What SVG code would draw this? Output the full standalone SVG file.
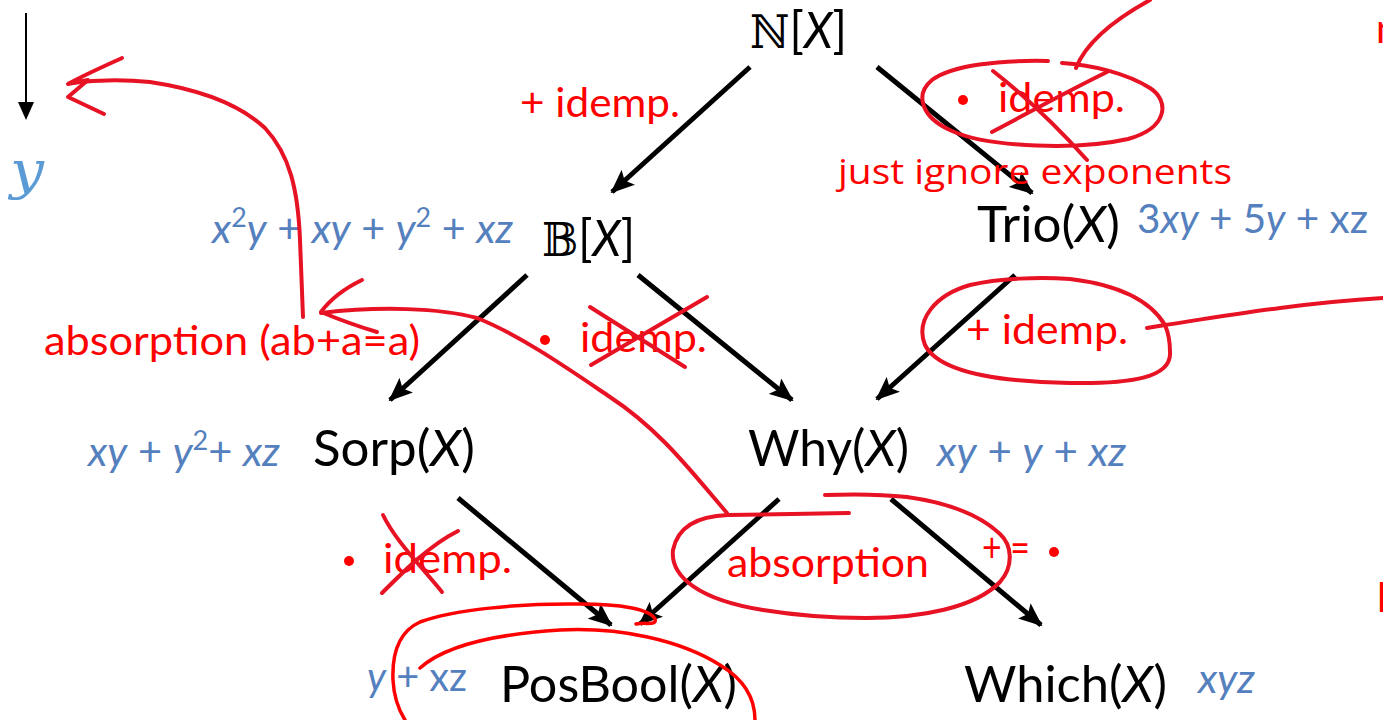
<svg xmlns="http://www.w3.org/2000/svg" width="1383" height="720" viewBox="0 0 1383 720">
<style>
.lbl{font-family:Lato,"Open Sans","Liberation Sans",sans-serif;font-size:50px;fill:#000}
.ds{font-family:Lato,"Open Sans","Liberation Sans",sans-serif;font-size:50px;fill:#000}
.dsg{font-family:"DejaVu Serif","DejaVu Sans",serif}
.it{font-style:italic}
.f{font-family:Lato,"Open Sans","Liberation Sans",sans-serif;font-size:40px;fill:#5580BE}
.r{font-family:Lato,"Open Sans","Liberation Sans",sans-serif;font-size:40px;fill:#FF0000}
.hw{font-family:"Open Sans","Noto Sans",sans-serif;font-size:34px;fill:#FF0000}
.arr{stroke:#000;stroke-width:5;fill:none;marker-end:url(#ah)}
.ink{stroke:#E71224;stroke-width:4;fill:none;stroke-linecap:round;stroke-linejoin:round}
.ink2{stroke:#FF0000;stroke-width:3.5;fill:none;stroke-linecap:round}
</style>
<defs>
<marker id="ah" markerUnits="userSpaceOnUse" markerWidth="24" markerHeight="20" refX="22" refY="10" orient="auto">
<path d="M0,0 L24,10 L0,20 L5,10 Z" fill="#000"/>
</marker>
<marker id="ahs" markerUnits="userSpaceOnUse" markerWidth="18" markerHeight="16" refX="16" refY="8" orient="auto">
<path d="M0,0 L18,8 L0,16 Z" fill="#000"/>
</marker>
</defs>

<!-- legend arrow and y -->
<g id="legend">
<line x1="26" y1="13" x2="26" y2="118" stroke="#000" stroke-width="2" marker-end="url(#ahs)"/>
<text x="10" y="188" font-family="'DejaVu Serif','Liberation Serif',serif" font-style="italic" font-size="52" fill="#5B9BD5" textLength="34" lengthAdjust="spacingAndGlyphs">y</text>
</g>

<!-- connectors -->
<g id="connectors">
<line class="arr" x1="750" y1="67" x2="612" y2="192"/>
<line class="arr" x1="877" y1="67" x2="1032" y2="193"/>
<line class="arr" x1="527" y1="275" x2="390" y2="400"/>
<line class="arr" x1="638" y1="275" x2="792" y2="400"/>
<line class="arr" x1="1015" y1="275" x2="877" y2="399"/>
<line class="arr" x1="458" y1="498" x2="611" y2="625"/>
<line class="arr" x1="779" y1="499" x2="640" y2="624"/>
<line class="arr" x1="891" y1="499" x2="1041" y2="625"/>
</g>

<!-- nodes -->
<g id="node-N"><text class="ds" x="750" y="48" textLength="97" lengthAdjust="spacingAndGlyphs"><tspan class="dsg" font-size="46">ℕ</tspan>[<tspan class="it">X</tspan>]</text></g>
<g id="node-B"><text class="ds" x="542" y="256" textLength="93" lengthAdjust="spacingAndGlyphs"><tspan class="dsg" font-size="46">𝔹</tspan>[<tspan class="it">X</tspan>]</text>
<text class="f" x="212" y="243" textLength="301" lengthAdjust="spacingAndGlyphs"><tspan class="it">x</tspan><tspan font-size="26" dy="-16">2</tspan><tspan class="it" dy="16">y</tspan> + <tspan class="it">xy</tspan> + <tspan class="it">y</tspan><tspan font-size="26" dy="-16">2</tspan><tspan dy="16"> + </tspan><tspan class="it">xz</tspan></text></g>
<g id="node-Trio"><text class="lbl" x="977" y="242" textLength="143" lengthAdjust="spacingAndGlyphs">Trio(<tspan class="it">X</tspan>)</text>
<text class="f" x="1137" y="233" textLength="231" lengthAdjust="spacingAndGlyphs">3<tspan class="it">xy</tspan> + 5<tspan class="it">y</tspan> + xz</text></g>
<g id="node-Sorp"><text class="lbl" x="313" y="466" textLength="162" lengthAdjust="spacingAndGlyphs">Sorp(<tspan class="it">X</tspan>)</text>
<text class="f" x="88" y="466" textLength="192" lengthAdjust="spacingAndGlyphs"><tspan class="it">xy</tspan> + <tspan class="it">y</tspan><tspan font-size="26" dy="-16">2</tspan><tspan dy="16">+ </tspan><tspan class="it">xz</tspan></text></g>
<g id="node-Why"><text class="lbl" x="748" y="466" textLength="161" lengthAdjust="spacingAndGlyphs">Why(<tspan class="it">X</tspan>)</text>
<text class="f" x="937" y="466" textLength="189" lengthAdjust="spacingAndGlyphs"><tspan class="it">xy</tspan> + <tspan class="it">y</tspan> + <tspan class="it">xz</tspan></text></g>
<g id="node-PosBool"><text class="lbl" x="500" y="702" textLength="237" lengthAdjust="spacingAndGlyphs">PosBool(<tspan class="it">X</tspan>)</text>
<text class="f" x="367" y="691" textLength="100" lengthAdjust="spacingAndGlyphs"><tspan class="it">y</tspan> + xz</text></g>
<g id="node-Which"><text class="lbl" x="964" y="702" textLength="203" lengthAdjust="spacingAndGlyphs">Which(<tspan class="it">X</tspan>)</text>
<text class="f it" x="1198" y="693" textLength="57" lengthAdjust="spacingAndGlyphs">xyz</text></g>

<!-- red labels -->
<g id="labels">
<text class="r" x="520" y="117" textLength="160" lengthAdjust="spacingAndGlyphs">+ idemp.</text>
<circle cx="963" cy="100" r="5" fill="#FF0000"/>
<text class="r" x="998" y="112" textLength="127" lengthAdjust="spacingAndGlyphs">idemp.</text>
<text class="hw" x="838" y="184" textLength="394" lengthAdjust="spacingAndGlyphs">just ignore exponents</text>
<text class="r" x="44" y="355" textLength="376" lengthAdjust="spacingAndGlyphs">absorption (ab+a=a)</text>
<circle cx="545" cy="340" r="5" fill="#FF0000"/>
<text class="r" x="580" y="352" textLength="127" lengthAdjust="spacingAndGlyphs">idemp.</text>
<text class="r" x="966" y="344" textLength="162" lengthAdjust="spacingAndGlyphs">+ idemp.</text>
<circle cx="349" cy="561" r="5" fill="#FF0000"/>
<text class="r" x="383" y="573" textLength="129" lengthAdjust="spacingAndGlyphs">idemp.</text>
<text class="r" x="727" y="577" textLength="202" lengthAdjust="spacingAndGlyphs">absorption</text>
<text class="r" x="982" y="562" font-size="34" textLength="48" lengthAdjust="spacingAndGlyphs">+ =</text>
<circle cx="1054" cy="552" r="5" fill="#FF0000"/>
<text class="r" x="1376" y="43" font-size="36">n</text>
<text class="r" x="1377" y="612" font-size="36">l</text>
</g>

<!-- ink annotations -->
<g id="ink">
<path class="ink" d="M1048,61 C1000,60 952,65 932,80 C915,94 920,117 952,131 C990,148 1080,150 1128,139 C1168,128 1170,101 1150,88 C1126,73 1092,65 1062,63"/>
<path class="ink" d="M993,71 C1030,100 1060,130 1087,160"/>
<path class="ink" d="M992,132 C1030,112 1070,90 1107,72"/>
<path class="ink" d="M1076,68 C1085,45 1110,22 1150,0"/>
<path class="ink" d="M1147,328 L1165,325 C1230,315 1300,303 1383,298"/>
<path class="ink" d="M1165,325 C1150,300 1120,285 1070,279 C1040,277 1000,278 970,285 C935,295 915,320 925,345 C940,375 1010,382 1070,383 C1130,384 1172,378 1170,352 C1170,340 1168,332 1165,325"/>
<path class="ink" d="M590,307 L685,367"/>
<path class="ink" d="M591,365 L707,297"/>
<path class="ink" d="M383,515 C395,540 420,565 442,592"/>
<path class="ink" d="M382,593 C405,570 430,545 458,531"/>
<path class="ink" stroke-width="3.5" d="M727,513 C690,470 660,430 610,397 C570,370 520,335 477,318 C440,308 380,306 321,313"/>
<path class="ink" stroke-width="5" d="M362,280 Q335,293 321,312 Q350,324 377,332"/>
<path class="ink" d="M849,513 L728,515 C700,516 678,525 673,550 C670,577 700,600 763,610 C800,616 840,618 866,618 C920,618 975,608 1000,582 C1014,566 1012,545 1000,534 C980,515 950,503 907,497 C880,494 850,494 825,495"/>
<path class="ink" d="M303,317 L300,240 C298,190 290,155 265,128 C235,100 190,88 150,82 C120,79 95,80 70,83"/>
<path class="ink" stroke-width="6" d="M122,58 C100,68 82,76 68,84 L88,80 M88,80 L68,97 L104,114"/>
<path class="ink2" d="M636,624 C646,622 657,626 655,619 C650,609 620,604 580,604 C520,603 452,610 420,622 C398,632 392,655 393,680 C394,700 400,712 405,720"/>
<path class="ink2" d="M420,668 C440,650 480,635 560,630 C620,627 680,640 720,665 C745,680 755,700 755,720"/>
</g>
</svg>
